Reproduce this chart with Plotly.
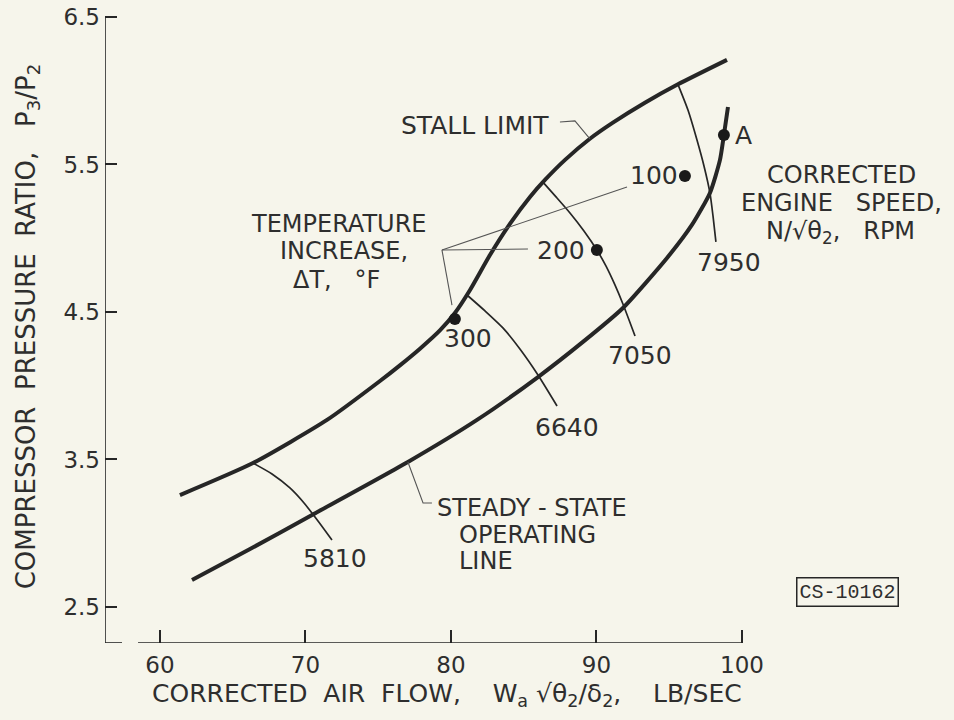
import plotly.graph_objects as go

# ---------------- data ----------------
stall_x = [61.37, 66.39, 71.48, 75.12, 76.49, 77.87, 79.24, 80.27, 81.31, 82.68, 84.05, 85.43,
           86.46, 87.84, 89.55, 91.13, 93.33, 95.60, 98.97]
stall_y = [3.259, 3.476, 3.768, 4.032, 4.138, 4.251, 4.375, 4.493, 4.649, 4.886, 5.097, 5.280,
           5.395, 5.531, 5.674, 5.783, 5.918, 6.043, 6.209]

oper_x = [62.20, 66.19, 70.45, 77.04, 81.79, 85.98, 89.07, 91.82, 94.85, 96.56, 97.80, 98.49, 98.76, 99.04]
oper_y = [2.683, 2.893, 3.124, 3.483, 3.768, 4.059, 4.297, 4.527, 4.866, 5.090, 5.307, 5.531, 5.700, 5.890]

speed_labels = ["5810", "6640", "7050", "7950"]
speed_x = [
    [66.39, 67.70, 68.93, 69.90, 70.86, 71.82],
    [81.10, 82.34, 83.57, 84.74, 85.98, 87.29],
    [86.32, 87.22, 88.18, 89.14, 90.03, 90.65, 91.27, 91.82, 92.65],
    [95.60, 96.29, 96.91, 97.39, 97.80, 98.01, 98.21],
]
speed_y = [
    [3.476, 3.402, 3.307, 3.205, 3.083, 2.954],
    [4.615, 4.507, 4.392, 4.249, 4.073, 3.863],
    [5.380, 5.280, 5.171, 5.049, 4.920, 4.812, 4.683, 4.554, 4.337],
    [6.043, 5.869, 5.666, 5.490, 5.307, 5.151, 4.975],
]

temp_labels = ["300", "200", "100"]
temp_x = [80.27, 90.03, 96.08]
temp_y = [4.453, 4.920, 5.422]

point_a_x = [98.76]
point_a_y = [5.700]

x_ticks = [60, 70, 80, 90, 100]
y_ticks = [2.5, 3.5, 4.5, 5.5, 6.5]
y_tick_text = ["2.5", "3.5", "4.5", "5.5", "6.5"]

# ---------------- styling ----------------
INK = "#262626"
TXT = "#2e2e2e"
PAPER = "#f6f5eb"
FONT = "DejaVu Sans"
X_RANGE = [56.22, 114.30]
Y_RANGE = [2.256, 6.547]
NB = "\u00a0"

fig = go.Figure()

# stall limit and operating line (heavy)
for cx, cy in [(stall_x, stall_y), (oper_x, oper_y)]:
    fig.add_trace(go.Scatter(x=cx, y=cy, mode="lines",
                             line=dict(color=INK, width=4, shape="spline", smoothing=0.6),
                             hoverinfo="skip", showlegend=False))

# constant corrected-speed lines (thin)
for sx, sy in zip(speed_x, speed_y):
    fig.add_trace(go.Scatter(x=sx, y=sy, mode="lines",
                             line=dict(color=INK, width=1.7, shape="spline", smoothing=0.6),
                             hoverinfo="skip", showlegend=False))

# data points
fig.add_trace(go.Scatter(x=temp_x + point_a_x, y=temp_y + point_a_y, mode="markers",
                         marker=dict(color="#1a1a1a", size=12),
                         hoverinfo="skip", showlegend=False))

# leader lines (thin)
leaders = [
    ([79.38, 92.10], [4.920, 5.347]),
    ([79.38, 85.29], [4.920, 4.927]),
    ([79.38, 80.07], [4.920, 4.547]),
    ([77.04, 78.08, 78.69], [3.483, 3.205, 3.205]),
    ([87.49, 88.52, 89.55], [5.788, 5.795, 5.674]),
]
for lx, ly in leaders:
    fig.add_trace(go.Scatter(x=lx, y=ly, mode="lines",
                             line=dict(color="#555555", width=1.1),
                             hoverinfo="skip", showlegend=False))

# ---------------- axis frame (as inked in the original) ----------------
shapes = [
    dict(type="line", xref="x", yref="y", x0=X_RANGE[0], x1=X_RANGE[0], y0=Y_RANGE[0], y1=y_ticks[-1],
         line=dict(color=INK, width=1.6)),
    dict(type="line", xref="x", yref="y", x0=X_RANGE[0], x1=57.39, y0=Y_RANGE[0], y1=Y_RANGE[0],
         line=dict(color=INK, width=1.6)),
    dict(type="line", xref="x", yref="y", x0=58.49, x1=x_ticks[-1], y0=Y_RANGE[0], y1=Y_RANGE[0],
         line=dict(color=INK, width=1.6)),
]

# ---------------- annotations ----------------
def txt(x, y, s, xa="center", size=25):
    return dict(x=x, y=y, xref="x", yref="y", text=s, showarrow=False, xanchor=xa, yanchor="middle",
                font=dict(family=FONT, size=size, color=TXT))

ann = [
    txt(81.65, 5.761, "STALL" + NB + "LIMIT"),
    txt(72.30, 5.097, "TEMPERATURE", size=24),
    txt(72.65, 4.910, "INCREASE,", size=24),
    txt(72.10, 4.720, "ΔT," + NB * 3 + "°F", size=24),
    txt(78.90, 3.171, "STEADY" + NB + "-" + NB + "STATE", xa="left", size=24),
    txt(80.41, 2.985, "OPERATING", xa="left", size=24),
    txt(80.41, 2.812, "LINE", xa="left", size=24),
    txt(106.87, 5.428, "CORRECTED", size=24),
    txt(106.87, 5.242, "ENGINE" + NB * 3 + "SPEED,", size=24),
    txt(106.74, 5.036, "N/√θ<sub>2</sub>," + NB * 3 + "RPM", size=24),
    txt(100.14, 5.693, "A"),
]
speed_label_pos = [(72.03, 2.832), (87.97, 3.720), (92.99, 4.208), (99.11, 4.832)]
for lab, (ax_, ay_) in zip(speed_labels, speed_label_pos):
    ann.append(txt(ax_, ay_, lab))
temp_label_pos = [(81.17, 4.317), (87.56, 4.920), (93.95, 5.422)]
for lab, (ax_, ay_) in zip(temp_labels, temp_label_pos):
    ann.append(txt(ax_, ay_, lab))
ann.append(dict(x=107.28, y=2.602, xref="x", yref="y", text="CS-10162", showarrow=False,
                font=dict(family="Liberation Mono", size=20, color=TXT),
                bordercolor=INK, borderwidth=1.5, borderpad=2, bgcolor=PAPER))
# x-axis title (centred where the original places it)
ann.append(dict(x=79.73, y=-0.082, xref="x", yref="paper", showarrow=False,
                xanchor="center", yanchor="middle",
                text="CORRECTED" + NB * 2 + "AIR" + NB * 2 + "FLOW," + NB * 4 + "W<sub>a</sub>" + NB +
                     "√θ<sub>2</sub>/δ<sub>2</sub>," + NB * 4 + "LB/SEC",
                font=dict(family=FONT, size=25, color=TXT)))

fig.update_layout(
    width=954, height=720,
    margin=dict(l=105, r=4, t=10, b=77),
    paper_bgcolor=PAPER, plot_bgcolor=PAPER,
    shapes=shapes, annotations=ann,
    font=dict(family=FONT, color=TXT),
    xaxis=dict(range=X_RANGE, tickvals=x_ticks, ticktext=[str(v) for v in x_ticks],
               ticks="inside", ticklen=13, tickwidth=1.6, tickcolor=INK,
               showline=False, showgrid=False, zeroline=False,
               tickfont=dict(family=FONT, size=23, color=TXT), ticklabelstandoff=6),
    yaxis=dict(range=Y_RANGE, tickvals=y_ticks, ticktext=y_tick_text,
               ticks="inside", ticklen=12, tickwidth=1.6, tickcolor=INK,
               showline=False, showgrid=False, zeroline=False,
               tickfont=dict(family=FONT, size=23, color=TXT), ticklabelstandoff=4,
               title=dict(text=NB * 2 + "COMPRESSOR" + NB * 2 + "PRESSURE" + NB * 2 + "RATIO," + NB * 3 +
                          "P<sub>3</sub>/P<sub>2</sub>",
                          font=dict(family=FONT, size=26, color=TXT), standoff=20)),
)

fig.write_html("out.html", config={"displayModeBar": False},
               post_script="document.body.style.margin='0';document.body.style.background='%s';" % PAPER)
